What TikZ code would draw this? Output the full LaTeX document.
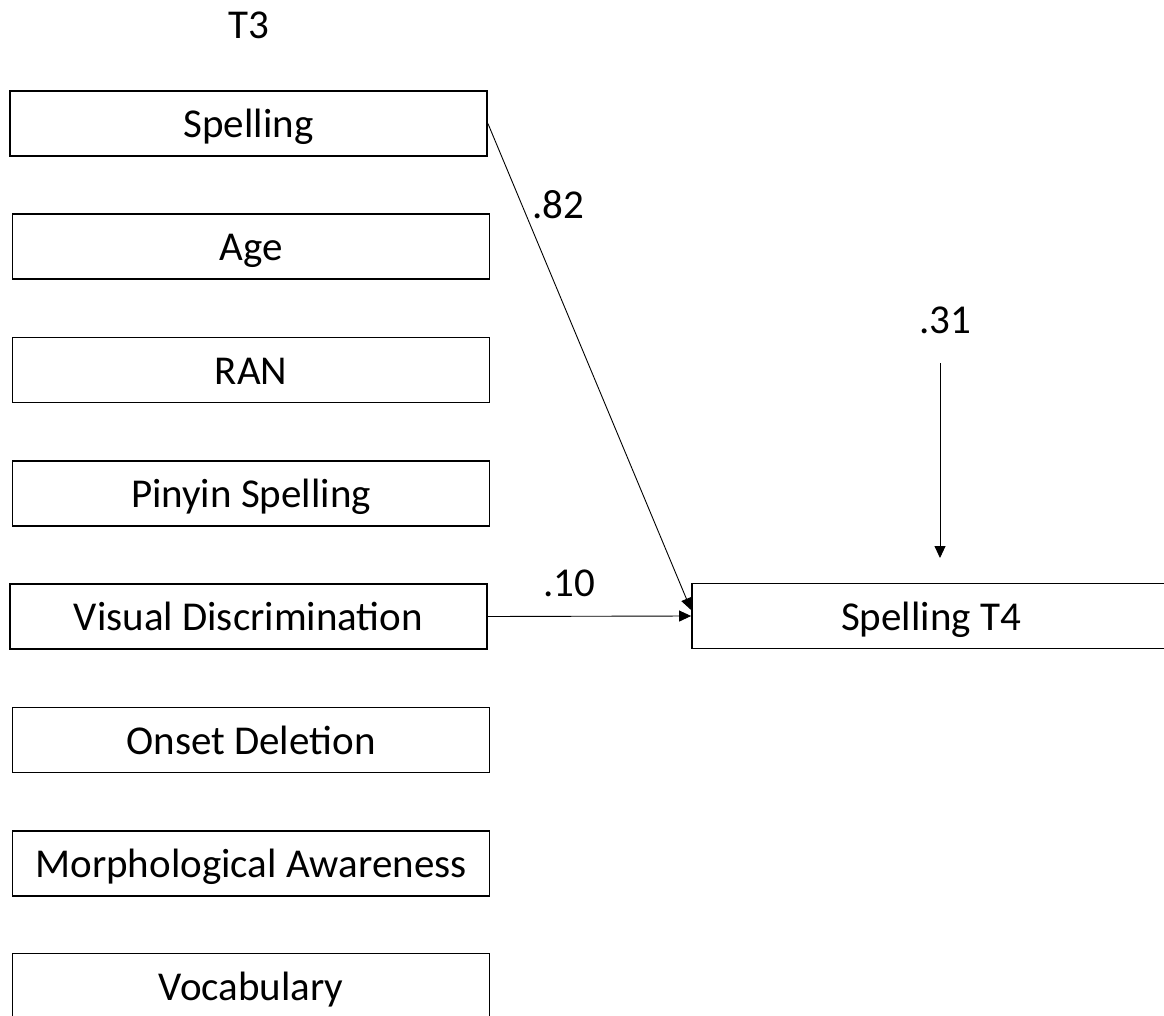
\documentclass[tikz,border=0pt]{standalone}
\usepackage{fontspec}
\setmainfont{Carlito}
\usetikzlibrary{arrows.meta}
\tikzset{
  box/.style={draw=black, line width=1.8pt, minimum width=477pt, minimum height=65pt, inner sep=0pt, text height=30pt, text depth=2pt, font=\fontsize{41}{49}\selectfont},
  lbl/.style={inner sep=0pt, font=\fontsize{41}{49}\selectfont},
  arr/.style={line width=0.9pt, -{Triangle[length=12pt,width=11pt]}}
}
\begin{document}
\begin{tikzpicture}[x=1pt,y=-1pt]
\useasboundingbox (0,0) rectangle (1164,1016);
\node[lbl] (t3) at (249,25) {T3};
\node[box] (sp) at (248.5,123.5) {Spelling};
\node[box] (age) at (251,246.5) {Age};
\node[box] (ran) at (251,370) {RAN};
\node[box] (pin) at (251,493.5) {Pinyin Spelling};
\node[box] (vis) at (248.5,616.5) {Visual Discrimination};
\node[box] (ons) at (251,740) {Onset Deletion};
\node[box] (mor) at (251,863.5) {Morphological Awareness};
\node[box] (voc) at (251,986) {Vocabulary};
\node[box, minimum width=478pt] (t4) at (931,616) {Spelling T4};
\node[lbl] (l82) at (558,205) {.82};
\node[lbl] (l10) at (569,583) {.10};
\node[lbl] (l31) at (945,320) {.31};
\coordinate (e31s) at (940,363);
\coordinate (e31e) at (940,558);
\draw[arr] (sp.east) -- ([yshift=6pt]t4.west);
\draw[arr] (vis.east) -- (t4.west);
\draw[arr] (e31s) -- (e31e);
\end{tikzpicture}
\end{document}
